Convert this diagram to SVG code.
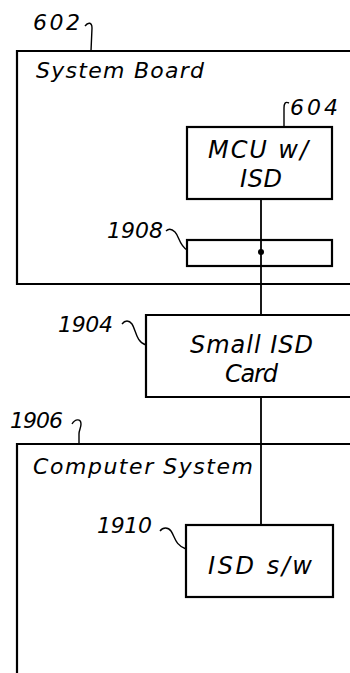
<svg xmlns="http://www.w3.org/2000/svg" width="350" height="673" viewBox="0 0 350 673">
<style>
.box{fill:none;stroke:#000;stroke-width:2.2}
.ln{fill:none;stroke:#000;stroke-width:1.8}
.ld{fill:none;stroke:#000;stroke-width:1.4}
text{font-family:"DejaVu Sans","Liberation Sans",sans-serif;font-style:italic;fill:#000}
.t{font-size:22px}
.b{font-size:24px}
.n{font-size:22px}
</style>
<rect width="350" height="673" fill="#fff"/>
<g id="system-board">
<path class="box" d="M352,51 H17 V284 H352"/>
<text class="t" x="36" y="78" textLength="168" lengthAdjust="spacing">System Board</text>
<text class="n" x="33" y="30" textLength="47" lengthAdjust="spacing">602</text>
<path class="ld" d="M85,26 C88,22 92,22 92,28 L91,51"/>
</g>
<g id="mcu">
<rect class="box" x="187" y="127" width="145" height="72"/>
<text class="b" x="208" y="158" textLength="100" lengthAdjust="spacing">MCU w/</text>
<text class="b" x="240" y="187" textLength="42" lengthAdjust="spacing">ISD</text>
<text class="n" x="290" y="115" textLength="48" lengthAdjust="spacing">604</text>
<path class="ld" d="M289,103 C285,101 284,104 284,108 L284,127"/>
</g>
<g id="connector-1908">
<rect class="box" x="187" y="240" width="145" height="26"/>
<text class="n" x="107" y="238" textLength="56" lengthAdjust="spacing">1908</text>
<path class="ld" d="M166,231 C169,228 172,229 175,232 C179,236 179,245 187,250"/>
</g>
<g id="small-isd-card">
<path class="box" d="M352,315 H146 V397 H352"/>
<text class="b" x="190" y="353" textLength="123" lengthAdjust="spacing">Small ISD</text>
<text class="b" x="225" y="382" textLength="53" lengthAdjust="spacing">Card</text>
<text class="n" x="58" y="332" textLength="55" lengthAdjust="spacing">1904</text>
<path class="ld" d="M122,324 C125,320 129,320 132,324 C136,330 136,342 146,345"/>
</g>
<g id="computer-system">
<path class="box" d="M17,675 V444 H352"/>
<text class="t" x="33" y="474" textLength="220" lengthAdjust="spacing">Computer System</text>
<text class="n" x="10" y="428" textLength="53" lengthAdjust="spacing">1906</text>
<path class="ld" d="M72,424 C75,419 81,418 81,424 C81,428 79,430 79,434 L79,444"/>
</g>
<g id="isd-sw">
<rect class="box" x="186" y="525" width="147" height="72"/>
<text class="b" x="208" y="574" textLength="104" lengthAdjust="spacing">ISD s/w</text>
<text class="n" x="97" y="533" textLength="55" lengthAdjust="spacing">1910</text>
<path class="ld" d="M160,531 C163,527 168,527 171,531 C175,537 175,545 186,549"/>
</g>
<g id="connectors">
<line class="ln" x1="261" y1="199" x2="261" y2="315"/>
<circle cx="261" cy="252" r="3" fill="#000"/>
<line class="ln" x1="261" y1="397" x2="261" y2="525"/>
</g>
</svg>
